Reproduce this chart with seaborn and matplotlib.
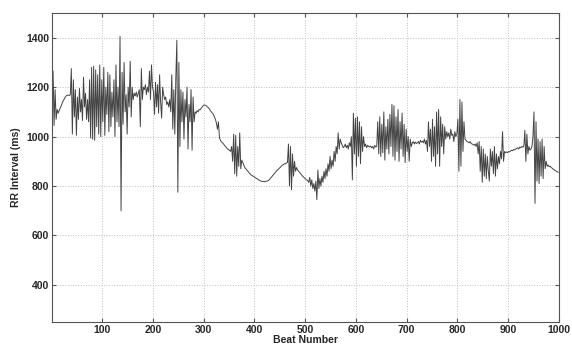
import numpy as np
import pandas as pd
import seaborn as sns
import matplotlib
matplotlib.use("Agg")
import matplotlib.pyplot as plt

# ---- RR intervals, one value every 2 beats ----
beats = list(range(1, 1000, 2))
rr_ms = [
    1130, 1265, 1045, 1190, 1070, 1110, 1095, 1105, 1115, 1125,
    1135, 1145, 1152, 1160, 1165, 1167, 1168, 1166, 1170, 1275,
    1010, 1230, 1080, 1190, 1005, 1160, 1070, 1195, 1100, 1150,
    1065, 1240, 1120, 1175, 1070, 1150, 1060, 1230, 995, 1280,
    990, 1285, 985, 1270, 1040, 1250, 1010, 1290, 1000, 1230,
    1060, 1280, 1005, 1200, 1090, 1260, 1020, 1250, 1040, 1180,
    1080, 1230, 1000, 1290, 1060, 1200, 1040, 1405, 700, 1260,
    1050, 1300, 1100, 1170, 1010, 1200, 1120, 1305, 1080, 1200,
    1150, 1175, 1165, 1180, 1160, 1175, 1190, 1040, 1275, 1150,
    1200, 1190, 1210, 1170, 1200, 1180, 1265, 1150, 1290, 1200,
    1180, 1090, 1220, 1120, 1210, 1095, 1250, 1140, 1075, 1200,
    1170, 1150, 1160, 1130, 1140, 1120, 1150, 1100, 1250, 1030,
    1190, 1010, 1240, 1390, 775, 1300, 960, 1190, 1060, 1180,
    990, 1150, 1080, 1200, 950, 1130, 1060, 1190, 945, 1160,
    1060, 1100, 1095, 1105, 1100, 1110, 1108, 1115, 1120, 1125,
    1128, 1127, 1125, 1120, 1118, 1112, 1105, 1100, 1095, 1090,
    1080, 1070, 1055, 1030, 1060, 995, 985, 978, 975, 970,
    965, 960, 955, 950, 948, 944, 940, 960, 900, 1010,
    850, 1005, 840, 960, 880, 1015, 870, 905, 895, 885,
    875, 870, 865, 860, 855, 850, 845, 843, 840, 838,
    835, 832, 830, 827, 824, 822, 820, 819, 818, 818,
    818, 819, 820, 822, 825, 830, 835, 840, 845, 850,
    855, 860, 865, 868, 872, 876, 880, 884, 887, 890,
    890, 893, 895, 970, 800, 960, 785, 930, 840, 900,
    860, 875, 865, 860, 855, 850, 845, 840, 836, 832,
    828, 825, 822, 815, 835, 800, 825, 790, 810, 780,
    820, 745, 865, 790, 830, 800, 840, 815, 860, 830,
    870, 840, 890, 860, 920, 870, 905, 880, 940, 900,
    960, 930, 1015, 950, 990, 975, 965, 955, 960, 970,
    955, 965, 950, 975, 960, 1000, 825, 1095, 930, 1075,
    880, 1080, 920, 1060, 890, 1040, 940, 1000, 960, 970,
    955, 965, 960, 958, 962, 955, 960, 950, 965, 958,
    960, 1060, 930, 1080, 920, 1050, 935, 1100, 905, 1040,
    950, 1070, 930, 1090, 960, 1130, 920, 1125, 905, 1080,
    940, 1110, 900, 1060, 950, 1095, 920, 1050, 895, 1030,
    940, 1000, 900, 990, 960, 975, 980, 970, 978, 972,
    975, 980, 970, 985, 978, 982, 975, 990, 970, 985,
    940, 1060, 960, 1030, 900, 1070, 920, 1040, 880, 1100,
    930, 1110, 880, 1080, 960, 1050, 930, 1040, 990, 1020,
    1000, 1015, 990, 1030, 1005, 1010, 980, 1020, 1000, 1010,
    1070, 860, 1150, 880, 1140, 940, 1060, 990, 985, 980,
    978, 975, 980, 972, 970, 968, 965, 970, 960, 975,
    930, 980, 860, 960, 815, 950, 840, 930, 830, 920,
    860, 820, 950, 880, 940, 850, 960, 840, 930, 870,
    920, 890, 940, 910, 1020, 900, 940, 935, 938, 935,
    940, 938, 942, 945, 943, 948, 946, 950, 952, 955,
    950, 958, 955, 960, 957, 962, 1025, 900, 1010, 930,
    960, 945, 950, 960, 1000, 1100, 730, 1060, 820, 990,
    810, 980, 840, 990, 830, 960, 870, 900, 880, 885,
    878, 880, 875, 872, 868, 866, 862, 860, 858, 855,
]
x_ticks = [100, 200, 300, 400, 500, 600, 700, 800, 900, 1000]
y_ticks = [400, 600, 800, 1000, 1200, 1400]

df = pd.DataFrame({"beat": beats, "rr": rr_ms})

sns.set_style("ticks")
plt.rcParams["font.family"] = ["Liberation Sans", "DejaVu Sans"]

fig = plt.figure(figsize=(5.72, 3.47), dpi=100)
ax = fig.add_axes([0.091, 0.072, 0.886, 0.8905])

sns.lineplot(data=df, x="beat", y="rr", ax=ax, color="#444444", linewidth=0.7)

ax.set_xlim(1, 1000)
ax.set_ylim(250, 1500)
ax.set_xticks(x_ticks)
ax.set_yticks(y_ticks)
ax.grid(True, linestyle=":", color="#c0c0c0", linewidth=0.7)
ax.tick_params(direction="in", length=3, labelsize=7.5, top=True, right=True,
               color="#555555", pad=2)
for lab in ax.get_xticklabels() + ax.get_yticklabels():
    lab.set_fontweight("bold")
for sp in ax.spines.values():
    sp.set_visible(True)
    sp.set_color("#555555")
    sp.set_linewidth(0.8)

ax.set_xlabel("Beat Number", fontsize=7.5, fontweight="bold", labelpad=0)
ax.set_ylabel("RR Interval (ms)", fontsize=7.5, fontweight="bold", labelpad=4)

fig.savefig("out.png", dpi=100)
